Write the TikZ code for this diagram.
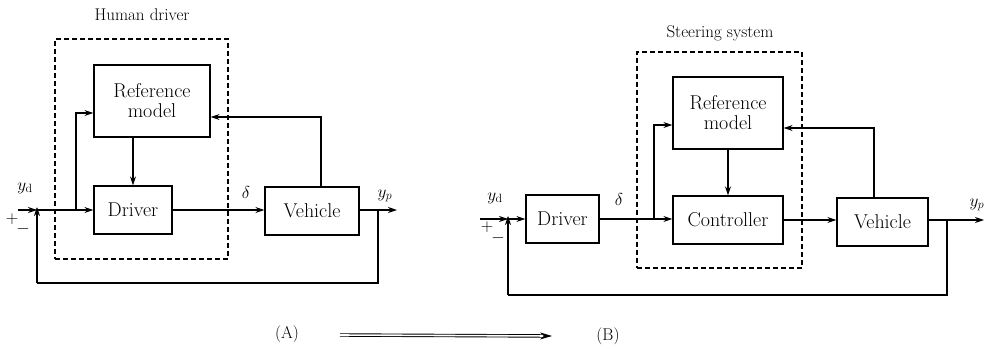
\documentclass[tikz,border=0pt]{standalone}
\usetikzlibrary{arrows.meta}
\begin{document}
\begin{tikzpicture}[x=1pt,y=-1pt,
  blk/.style={draw,line width=1.3pt,inner sep=0pt,align=center,font=\fontsize{20}{20}\selectfont},
  conn/.style={line width=1.2pt},
  arr/.style={line width=1.2pt,-{Stealth[length=9pt,width=6pt]}},
  grp/.style={draw,line width=1.5pt,dash pattern=on 5pt off 3pt},
  ttl/.style={font=\fontsize{17}{18}\selectfont},
  lbl/.style={font=\fontsize{17}{18}\selectfont,inner sep=0pt},
  sgn/.style={font=\fontsize{18}{18}\selectfont,inner sep=0pt}]
\useasboundingbox (0,0) rectangle (984,351);

% ---------- (A) ----------
\node[grp,minimum width=173pt,minimum height=220pt] (G1) at (141.5,149) {};
\node[ttl] (T1) at (142,15) {Human driver};
\node[blk,minimum width=116pt,minimum height=72pt] (RM1) at (152,101) {Reference\\model};
\node[blk,minimum width=78pt,minimum height=48pt] (DR1) at (133,210) {Driver};
\node[blk,minimum width=94pt,minimum height=48pt] (VE1) at (312,211) {Vehicle};
\coordinate (IN1) at (18,210);
\coordinate (J1) at (37,210);
\coordinate (B1) at (76,210);
\coordinate (B1t) at (76,113);
\coordinate (V1t) at (321,117);
\coordinate (O1) at (397,210);
\coordinate (T1p) at (378,210);
\coordinate (F1a) at (378,283);
\coordinate (F1b) at (37,283);
\fill (J1) circle (1.8pt);
\draw[arr] (IN1) -- (J1);
\draw[arr] (J1) -- (DR1.west);
\draw[arr] (B1) -- (B1t) -- (RM1.west |- B1t);
\draw[arr] (RM1.south -| DR1.north) -- (DR1.north);
\draw[arr] (DR1.east) -- (VE1.west |- DR1.east);
\draw[arr] (VE1.north -| V1t) -- (V1t) -- (RM1.east |- V1t);
\draw[arr] (VE1.east |- O1) -- (O1);
\draw[conn] (T1p) -- (F1a) -- (F1b);
\draw[arr] (F1b) -- ([yshift=3pt]J1);
\node[lbl] (YD1) at (25,188) {$y_{\mathrm{d}}$};
\node[sgn] (P1) at (12,219) {$+$};
\node[sgn] (M1) at (23,229) {$-$};
\node[lbl] (D1) at (246,192) {$\delta$};
\node[lbl] (YP1) at (385,196) {$y_p$};

% ---------- (B) ----------
\node[grp,minimum width=165pt,minimum height=216pt] (G2) at (719.5,160) {};
\node[ttl] (T2) at (720,33) {Steering system};
\node[blk,minimum width=73pt,minimum height=48pt] (DR2) at (562.5,219) {Driver};
\node[blk,minimum width=110pt,minimum height=72pt] (RM2) at (728,113) {Reference\\model};
\node[blk,minimum width=110pt,minimum height=48pt] (CT2) at (728,220) {Controller};
\node[blk,minimum width=91pt,minimum height=48pt] (VE2) at (882.5,222) {Vehicle};
\coordinate (IN2) at (480,219);
\coordinate (J2) at (508,219);
\coordinate (B2) at (654,219);
\coordinate (B2t) at (654,125);
\coordinate (V2t) at (874,128);
\coordinate (O2) at (984,220);
\coordinate (T2p) at (947,220);
\coordinate (F2a) at (947,295);
\coordinate (F2b) at (508,295);
\fill (J2) circle (1.8pt);
\draw[arr] (IN2) -- (J2);
\draw[arr] (J2) -- (DR2.west);
\draw[conn] (DR2.east) -- (B2);
\draw[arr] (B2) -- (CT2.west |- B2);
\draw[arr] (B2) -- (B2t) -- (RM2.west |- B2t);
\draw[arr] (RM2.south -| CT2.north) -- (CT2.north);
\draw[arr] (CT2.east) -- (VE2.west |- CT2.east);
\draw[arr] (VE2.north -| V2t) -- (V2t) -- (RM2.east |- V2t);
\draw[arr] (VE2.east |- O2) -- (O2);
\draw[conn] (T2p) -- (F2a) -- (F2b);
\draw[arr] (F2b) -- ([yshift=3pt]J2);
\node[lbl] (YD2) at (495,198) {$y_{\mathrm{d}}$};
\node[sgn] (P2) at (487,227) {$+$};
\node[sgn] (M2) at (498,238) {$-$};
\node[lbl] (D2) at (619,199) {$\delta$};
\node[lbl] (YP2) at (977,205) {$y_p$};

% ---------- bottom ----------
\node[lbl] (LA) at (287,334) {(A)};
\node[lbl] (LB) at (608,336) {(B)};
\coordinate (AR1) at (340,335);
\coordinate (AR2) at (552,336);
\draw[double,double distance=1.6pt,line width=0.9pt,-{Stealth[length=12pt,width=7pt]}] (AR1) -- (AR2);
\end{tikzpicture}
\end{document}
